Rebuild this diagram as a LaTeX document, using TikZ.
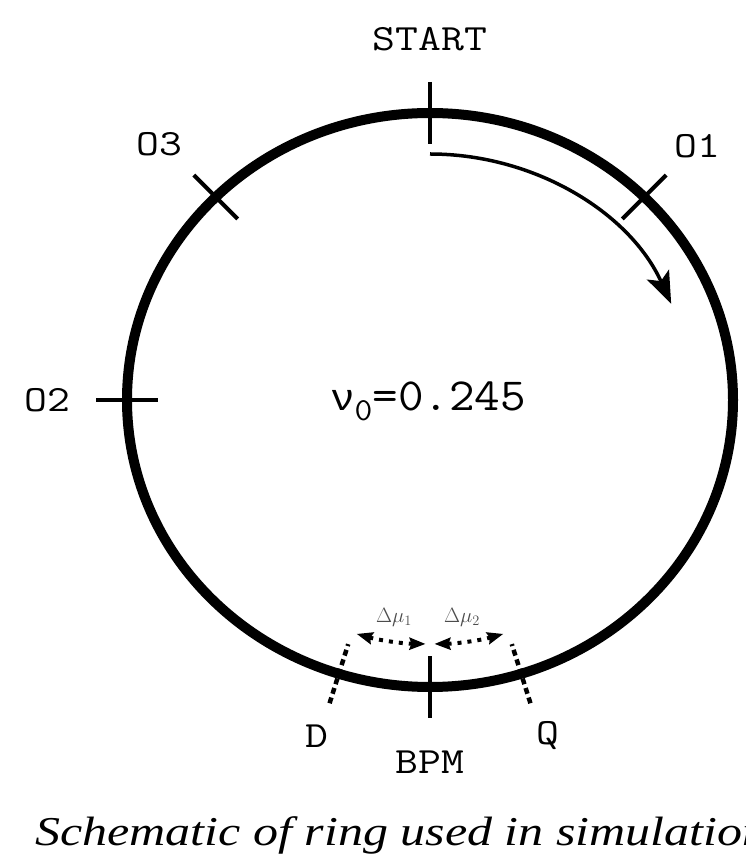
\documentclass[tikz,border=0pt]{standalone}
\usepackage{fontspec}
\usetikzlibrary{arrows.meta}
\newfontfamily\capfont{Liberation Serif}
\newfontfamily\greekmono{Liberation Mono}
\newcommand\wide[2]{\scalebox{#1}[1]{#2}}
\tikzset{
    ring/.style={line width=10pt},
    tickmark/.style={line width=4pt},
    dashtick/.style={line width=4.5pt, dash pattern=on 6pt off 4pt},
    flow/.style={line width=3.5pt, -{Stealth[length=32pt,width=24pt,inset=7pt]}},
    phase/.style={line width=4pt, dash pattern=on 4pt off 6pt,
        {Stealth[length=16pt,width=12pt,inset=2pt]}-{Stealth[length=16pt,width=12pt,inset=2pt]}},
    lbl/.style={inner sep=0pt, font=\fontsize{37}{40}\selectfont\ttfamily},
    small/.style={inner sep=0pt, text=black!70, font=\fontsize{22}{24}\selectfont},
}
\begin{document}
\begin{tikzpicture}[x=1pt,y=1pt]
    \clip (0,0) rectangle (745,857);
    % the ring
    \draw[ring] (430,457) ellipse [x radius=303, y radius=287];
    \foreach \a/\n in {90/st,45/oa,180/ob,135/oc,270/bpm}{
        \coordinate (p\n) at ({430+303*cos(\a)},{457+287*sin(\a)});
        \draw[tickmark] (p\n) ++(\a:31) -- ++(\a+180:62);
    }
    \foreach \a/\n in {252.5/d,287.5/q}{
        \coordinate (p\n) at ({430+303*cos(\a)},{457+287*sin(\a)});
        \draw[dashtick] (p\n) ++(\a:31) -- ++(\a+180:62);
    }
    % direction of motion
    \coordinate (go) at (430,703);
    \draw[flow] (go) arc[start angle=90, end angle=23, x radius=262, y radius=246];
    % phase advances
    \coordinate (m1) at ({430+258*cos(253.5)},{457+244*sin(253.5)});
    \coordinate (m2) at ({430+258*cos(271)},{457+244*sin(271)});
    \draw[phase] (m1) arc[start angle=253.5, end angle=269, x radius=258, y radius=244];
    \draw[phase] (m2) arc[start angle=271, end angle=286.5, x radius=258, y radius=244];
    \node[small] (dmu1) at (394,240) {$\Delta\mu_1$};
    \node[small] (dmu2) at (462,240) {$\Delta\mu_2$};
    % labels
    \node[lbl] (start) at (430,818) {\wide{1.2}{START}};
    \node[lbl] (o1) at (697,711) {\wide{1.2}{O1}};
    \node[lbl] (o3) at (159,713) {\wide{1.2}{O3}};
    \node[lbl] (o2) at (47,457) {\wide{1.2}{O2}};
    \node[lbl] (d) at (317,121) {\wide{1.2}{D}};
    \node[lbl] (bpm) at (430,95) {\wide{1.2}{BPM}};
    \node[lbl] (q) at (548,121) {\wide{1.2}{Q}};
    \node[inner sep=0pt, font=\fontsize{46}{48}\selectfont\ttfamily] (tune) at (428,456)
        {\wide{1.08}{{\fontsize{38}{40}\selectfont\greekmono ν}\raisebox{-10pt}{\fontsize{32}{32}\selectfont 0}=0.245}};
    \node[anchor=base west, inner sep=0pt, font=\fontsize{41}{44}\selectfont\capfont\itshape] (cap) at (35,12)
        {\wide{1.22}{Schematic of ring used in simulation}};
\end{tikzpicture}
\end{document}
